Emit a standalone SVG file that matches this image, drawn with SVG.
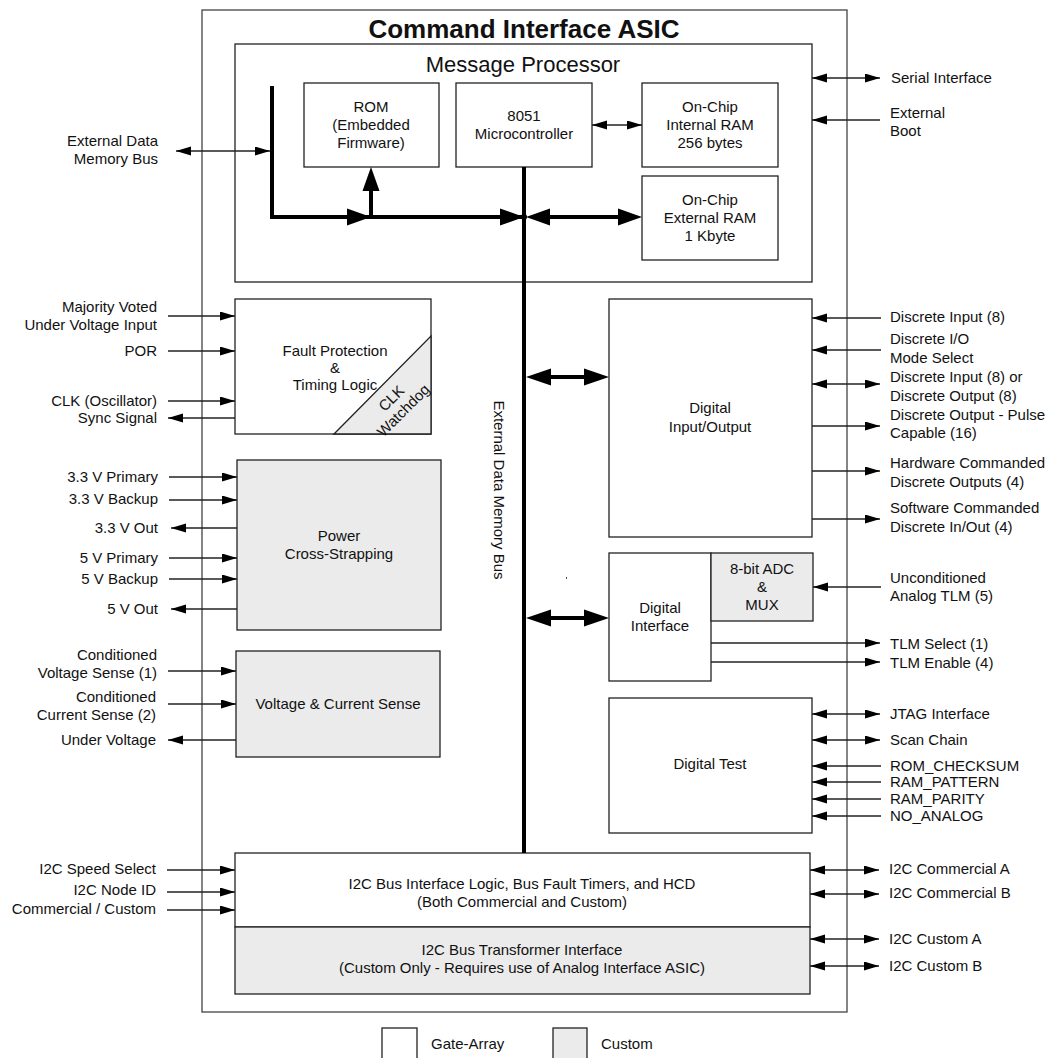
<svg xmlns="http://www.w3.org/2000/svg" width="1048" height="1058" viewBox="0 0 1048 1058">
<style>
text{font-family:"Liberation Sans",Arial,sans-serif;font-size:15px;fill:#111}
.m{text-anchor:middle}
.e{text-anchor:end}
.box{fill:#fff;stroke:#222;stroke-width:1.3}
.g{fill:#ebebeb;stroke:#222;stroke-width:1.3}
.w{stroke:#222;stroke-width:1.3;fill:none}
.bus{stroke:#000;stroke-width:4;fill:none}
.hd{fill:#000}
</style>
<defs>
<marker id="a" markerUnits="userSpaceOnUse" markerWidth="16" markerHeight="10" refX="15" refY="4.5" orient="auto-start-reverse" viewBox="0 0 16 10">
<path d="M0,0 L15,4.5 L0,9 z" fill="#000"/>
</marker>
</defs>
<rect fill="#fff" x="0" y="0" width="1048" height="1058"/>
<g id="asic">
<rect x="202" y="10" width="645" height="1002" fill="#fff" stroke="#444" stroke-width="1.3"/>
<text class="m" x="524" y="38" style="font-size:26px;font-weight:bold">Command Interface ASIC</text>
</g>
<g id="message-processor">
<rect class="box" x="235" y="44" width="577" height="238"/>
<text class="m" x="523" y="72" style="font-size:22px">Message Processor</text>
</g>
<g id="rom">
<rect class="box" x="304" y="83" width="135" height="84"/>
<text class="m" x="371" y="112">ROM</text>
<text class="m" x="371" y="130">(Embedded</text>
<text class="m" x="371" y="148">Firmware)</text>
</g>
<g id="mcu">
<rect class="box" x="456" y="83" width="136" height="84"/>
<text class="m" x="524" y="121">8051</text>
<text class="m" x="524" y="139">Microcontroller</text>
</g>
<g id="int-ram">
<rect class="box" x="642" y="83" width="136" height="84"/>
<text class="m" x="710" y="112">On-Chip</text>
<text class="m" x="710" y="130">Internal RAM</text>
<text class="m" x="710" y="148">256 bytes</text>
</g>
<g id="ext-ram">
<rect class="box" x="642" y="176" width="136" height="84"/>
<text class="m" x="710" y="205">On-Chip</text>
<text class="m" x="710" y="223">External RAM</text>
<text class="m" x="710" y="241">1 Kbyte</text>
</g>
<g id="fault">
<rect class="box" x="235" y="299" width="196" height="135"/>
<polygon class="g" points="334,434 431,336 431,434"/>
<text class="m" x="335" y="356">Fault Protection</text>
<text class="m" x="335" y="373">&amp;</text>
<text class="m" x="335" y="390">Timing Logic</text>
<text class="m" transform="translate(395,402) rotate(-45)"><tspan x="0" y="0">CLK</tspan><tspan x="0" y="17">Watchdog</tspan></text>
</g>
<g id="power">
<rect class="g" x="237" y="460" width="204" height="170"/>
<text class="m" x="339" y="541">Power</text>
<text class="m" x="339" y="559">Cross-Strapping</text>
</g>
<g id="vcsense">
<rect class="g" x="236" y="651" width="204" height="106"/>
<text class="m" x="338" y="709">Voltage &amp; Current Sense</text>
</g>
<g id="dio">
<rect class="box" x="609" y="299" width="203" height="238"/>
<text class="m" x="710" y="413">Digital</text>
<text class="m" x="710" y="432">Input/Output</text>
</g>
<g id="dif">
<rect class="box" x="609" y="553" width="102" height="128"/>
<text class="m" x="660" y="613">Digital</text>
<text class="m" x="660" y="631">Interface</text>
</g>
<g id="adc">
<rect class="g" x="711" y="553" width="102" height="68"/>
<text class="m" x="762" y="574">8-bit ADC</text>
<text class="m" x="762" y="592">&amp;</text>
<text class="m" x="762" y="610">MUX</text>
</g>
<g id="dtest">
<rect class="box" x="609" y="698" width="203" height="135"/>
<text class="m" x="710" y="769">Digital Test</text>
</g>
<g id="i2c">
<rect class="box" x="235" y="853" width="575" height="74"/>
<rect class="g" x="235" y="927" width="575" height="67"/>
<text class="m" x="522" y="889">I2C Bus Interface Logic, Bus Fault Timers, and HCD</text>
<text class="m" x="522" y="907">(Both Commercial and Custom)</text>
<text class="m" x="522" y="955">I2C Bus Transformer Interface</text>
<text class="m" x="522" y="973">(Custom Only - Requires use of Analog Interface ASIC)</text>
</g>
<g id="legend">
<rect class="box" x="382" y="1028" width="35" height="34"/>
<text x="431" y="1049">Gate-Array</text>
<rect class="g" x="553" y="1028" width="34" height="34"/>
<text x="601" y="1049">Custom</text>
</g>
<g id="connectors">
<path class="bus" d="M272,86 V217 H524"/>
<path class="bus" d="M371,217 V190"/>
<path class="bus" d="M524,167 V853"/>
<path class="bus" d="M548,217 H620"/>
<polygon class="hd" points="347,208.5 371,217 347,225.5"/>
<polygon class="hd" points="362.5,191 371,167 379.5,191"/>
<polygon class="hd" points="500,208.5 524,217 500,225.5"/>
<polygon class="hd" points="550,208.5 526,217 550,225.5"/>
<polygon class="hd" points="618,208.5 642,217 618,225.5"/>
<circle cx="524" cy="217" r="3" fill="#000"/>
<path class="bus" d="M548,377 H586"/>
<polygon class="hd" points="551,368.5 526,377 551,385.5"/>
<polygon class="hd" points="584,368.5 609,377 584,385.5"/>
<path class="bus" d="M548,618 H586"/>
<polygon class="hd" points="551,609.5 526,618 551,626.5"/>
<polygon class="hd" points="584,609.5 609,618 584,626.5"/>
<rect x="566" y="577" width="1" height="2" fill="#555"/>
<text class="m" transform="translate(494,490) rotate(90)">External Data Memory Bus</text>
<line class="w" x1="592" y1="125" x2="642" y2="125" marker-start="url(#a)" marker-end="url(#a)"/>
<line class="w" x1="176" y1="151" x2="270" y2="151" marker-start="url(#a)" marker-end="url(#a)"/>
<text class="e" x="158" y="146">External Data</text>
<text class="e" x="158" y="164">Memory Bus</text>
<line class="w" x1="168" y1="316" x2="235" y2="316" marker-end="url(#a)"/>
<text class="e" x="157" y="312">Majority Voted</text>
<text class="e" x="157" y="330">Under Voltage Input</text>
<line class="w" x1="168" y1="351" x2="235" y2="351" marker-end="url(#a)"/>
<text class="e" x="157" y="356">POR</text>
<line class="w" x1="168" y1="401" x2="235" y2="401" marker-end="url(#a)"/>
<text class="e" x="157" y="406">CLK (Oscillator)</text>
<line class="w" x1="235" y1="418" x2="168" y2="418" marker-end="url(#a)"/>
<text class="e" x="157" y="423">Sync Signal</text>
<line class="w" x1="169" y1="477" x2="237" y2="477" marker-end="url(#a)"/>
<text class="e" x="158" y="482">3.3 V Primary</text>
<line class="w" x1="169" y1="500" x2="237" y2="500" marker-end="url(#a)"/>
<text class="e" x="158" y="504">3.3 V Backup</text>
<line class="w" x1="237" y1="528" x2="171" y2="528" marker-end="url(#a)"/>
<text class="e" x="158" y="533">3.3 V Out</text>
<line class="w" x1="169" y1="558" x2="237" y2="558" marker-end="url(#a)"/>
<text class="e" x="158" y="563">5 V Primary</text>
<line class="w" x1="169" y1="579" x2="237" y2="579" marker-end="url(#a)"/>
<text class="e" x="158" y="584">5 V Backup</text>
<line class="w" x1="237" y1="609" x2="171" y2="609" marker-end="url(#a)"/>
<text class="e" x="158" y="614">5 V Out</text>
<line class="w" x1="168" y1="671" x2="236" y2="671" marker-end="url(#a)"/>
<text class="e" x="157" y="660">Conditioned</text>
<text class="e" x="157" y="678">Voltage Sense (1)</text>
<line class="w" x1="168" y1="704" x2="236" y2="704" marker-end="url(#a)"/>
<text class="e" x="156" y="702">Conditioned</text>
<text class="e" x="156" y="720">Current Sense (2)</text>
<line class="w" x1="236" y1="740" x2="168" y2="740" marker-end="url(#a)"/>
<text class="e" x="156" y="745">Under Voltage</text>
<line class="w" x1="167" y1="870" x2="235" y2="870" marker-end="url(#a)"/>
<text class="e" x="156" y="874">I2C Speed Select</text>
<line class="w" x1="167" y1="892" x2="235" y2="892" marker-end="url(#a)"/>
<text class="e" x="156" y="895">I2C Node ID</text>
<line class="w" x1="167" y1="910" x2="235" y2="910" marker-end="url(#a)"/>
<text class="e" x="156" y="914">Commercial / Custom</text>
<line class="w" x1="812" y1="78" x2="880" y2="78" marker-start="url(#a)" marker-end="url(#a)"/>
<text x="891" y="83">Serial Interface</text>
<line class="w" x1="880" y1="120" x2="812" y2="120" marker-end="url(#a)"/>
<text x="890" y="118">External</text>
<text x="890" y="136">Boot</text>
<line class="w" x1="881" y1="318" x2="812" y2="318" marker-end="url(#a)"/>
<text x="890" y="322">Discrete Input (8)</text>
<line class="w" x1="881" y1="350" x2="812" y2="350" marker-end="url(#a)"/>
<text x="890" y="344">Discrete I/O</text>
<text x="890" y="363">Mode Select</text>
<line class="w" x1="812" y1="384" x2="880" y2="384" marker-start="url(#a)" marker-end="url(#a)"/>
<text x="890" y="382">Discrete Input (8) or</text>
<text x="890" y="401">Discrete Output (8)</text>
<line class="w" x1="812" y1="426" x2="880" y2="426" marker-end="url(#a)"/>
<text x="890" y="420">Discrete Output - Pulse</text>
<text x="890" y="438">Capable (16)</text>
<line class="w" x1="812" y1="471" x2="880" y2="471" marker-end="url(#a)"/>
<text x="890" y="468">Hardware Commanded</text>
<text x="890" y="487">Discrete Outputs (4)</text>
<line class="w" x1="812" y1="519" x2="880" y2="519" marker-end="url(#a)"/>
<text x="890" y="513">Software Commanded</text>
<text x="890" y="532">Discrete In/Out (4)</text>
<line class="w" x1="881" y1="587" x2="813" y2="587" marker-end="url(#a)"/>
<text x="890" y="583">Unconditioned</text>
<text x="890" y="601">Analog TLM (5)</text>
<line class="w" x1="711" y1="643" x2="880" y2="643" marker-end="url(#a)"/>
<text x="890" y="649">TLM Select (1)</text>
<line class="w" x1="711" y1="662" x2="880" y2="662" marker-end="url(#a)"/>
<text x="890" y="668">TLM Enable (4)</text>
<line class="w" x1="812" y1="714" x2="880" y2="714" marker-start="url(#a)" marker-end="url(#a)"/>
<text x="890" y="719">JTAG Interface</text>
<line class="w" x1="812" y1="740" x2="880" y2="740" marker-start="url(#a)" marker-end="url(#a)"/>
<text x="890" y="745">Scan Chain</text>
<line class="w" x1="881" y1="766" x2="812" y2="766" marker-end="url(#a)"/>
<text x="890" y="771">ROM_CHECKSUM</text>
<line class="w" x1="881" y1="782" x2="812" y2="782" marker-end="url(#a)"/>
<text x="890" y="787">RAM_PATTERN</text>
<line class="w" x1="881" y1="799" x2="812" y2="799" marker-end="url(#a)"/>
<text x="890" y="804">RAM_PARITY</text>
<line class="w" x1="881" y1="816" x2="812" y2="816" marker-end="url(#a)"/>
<text x="890" y="821">NO_ANALOG</text>
<line class="w" x1="810" y1="870" x2="879" y2="870" marker-start="url(#a)" marker-end="url(#a)"/>
<text x="889" y="874">I2C Commercial A</text>
<line class="w" x1="810" y1="894" x2="879" y2="894" marker-start="url(#a)" marker-end="url(#a)"/>
<text x="889" y="898">I2C Commercial B</text>
<line class="w" x1="810" y1="939" x2="879" y2="939" marker-start="url(#a)" marker-end="url(#a)"/>
<text x="889" y="944">I2C Custom A</text>
<line class="w" x1="810" y1="966" x2="879" y2="966" marker-start="url(#a)" marker-end="url(#a)"/>
<text x="889" y="971">I2C Custom B</text>
</g>
</svg>
